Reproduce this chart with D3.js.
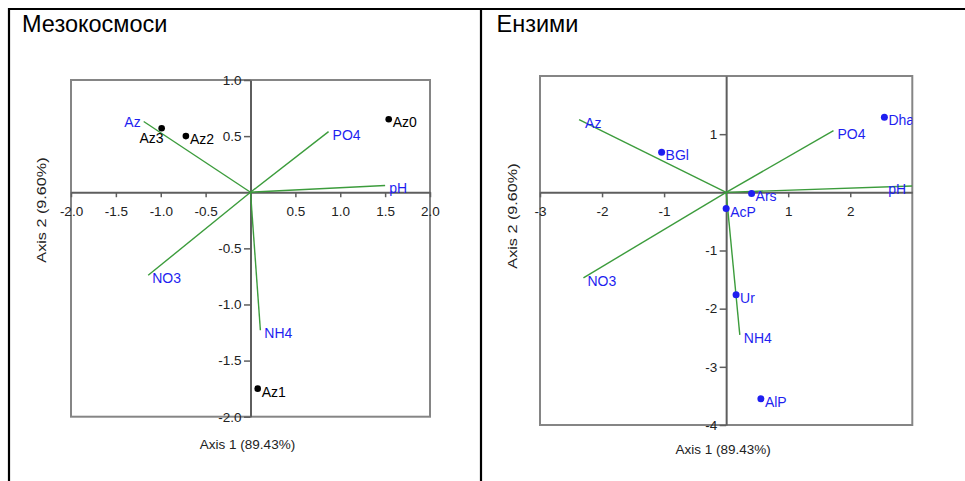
<!DOCTYPE html>
<html>
<head>
<meta charset="utf-8">
<script src="https://cdn.jsdelivr.net/npm/d3@7"></script>
<style>
  html, body { margin: 0; padding: 0; background: #fff; }
  svg { display: block; font-family: "Liberation Sans", Arial, sans-serif; }
</style>
</head>
<body>
<svg id="chart" width="965" height="481"></svg>
<script>
// ---- Data: PCA biplots (Axis 1 = 89.43 %, Axis 2 = 9.60 %) ----
const titles = ["Мезокосмоси", "Ензими"];
const axis1Title = "Axis 1 (89.43%)";
const axis2Title = "Axis 2 (9.60%)";

// Environmental vectors (shared names)
const vectorNames = ["Az", "PO4", "pH", "NO3", "NH4"];
const mesoVectorX = [-1.19, 0.87, 1.50, -1.14, 0.11];
const mesoVectorY = [0.63, 0.54, 0.06, -0.74, -1.23];
const enzVectorX = [-2.37, 1.73, 3.00, -2.30, 0.22];
const enzVectorY = [1.25, 1.06, 0.11, -1.47, -2.45];

// Scores – mesocosms
const mesoPointNames = ["Az0", "Az1", "Az2", "Az3"];
const mesoPointX = [1.54, 0.08, -0.72, -0.99];
const mesoPointY = [0.65, -1.75, 0.50, 0.57];

// Scores – enzymes
const enzPointNames = ["Dha", "BGl", "Ars", "AcP", "Ur", "AlP"];
const enzPointX = [2.55, -1.04, 0.41, 0.00, 0.16, 0.56];
const enzPointY = [1.29, 0.69, -0.02, -0.28, -1.76, -3.55];

// Axis domains and tick labels
const mesoDomainX = [-2, 2], mesoDomainY = [-2, 1];
const enzDomainX = [-3, 3], enzDomainY = [-4, 2];
const mesoTicksX = [-2.0, -1.5, -1.0, -0.5, 0.5, 1.0, 1.5, 2.0];
const mesoTicksY = [1.0, 0.5, -0.5, -1.0, -1.5, -2.0];
const enzTicksX = [-3, -2, -1, 1, 2];
const enzTicksY = [1, -1, -2, -3, -4];

// ---- Layout and styles ----
const GREEN = "#3c9c3c";
const BLUE = "#1f1ff0";
const AXIS = "#5e5e5e";
const BOX = "#858585";
const TEXT = "#222";

const svg = d3.select("#chart");
svg.append("rect").attr("width", 965).attr("height", 481).attr("fill", "#fff");

// outer table frame
const frame = svg.append("g").attr("stroke", "#000").attr("stroke-width", 2.2);
frame.append("line").attr("x1", 8).attr("x2", 965).attr("y1", 9).attr("y2", 9);
frame.append("line").attr("x1", 9).attr("x2", 9).attr("y1", 8).attr("y2", 481);
frame.append("line").attr("x1", 481).attr("x2", 481).attr("y1", 8).attr("y2", 481);

const panels = [
  {
    id: "meso", title: titles[0], titleX: 22,
    box: { x0: 71, x1: 430, y0: 80, y1: 416.7 },
    domX: mesoDomainX, domY: mesoDomainY,
    ticksX: mesoTicksX, ticksY: mesoTicksY, fmt: d => d.toFixed(1),
    vx: mesoVectorX, vy: mesoVectorY,
    pn: mesoPointNames, px: mesoPointX, py: mesoPointY,
    pointColor: "#000", pointR: 3.3,
    axis1Y: 449, axis2X: 46, axis2Y: 210,
    vecLabel: { Az: { dx: -3, dy: 5.5, anchor: "end" } },
    ptLabel: { Az3: { dx: 2, dy: 15, anchor: "end" } }
  },
  {
    id: "enz", title: titles[1], titleX: 496.5,
    box: { x0: 540, x1: 912.3, y0: 76, y1: 425 },
    domX: enzDomainX, domY: enzDomainY,
    ticksX: enzTicksX, ticksY: enzTicksY, fmt: d => String(d),
    vx: enzVectorX, vy: enzVectorY,
    pn: enzPointNames, px: enzPointX, py: enzPointY,
    pointColor: BLUE, pointR: 3.5,
    axis1Y: 454, axis2X: 517, axis2Y: 216,
    vecLabel: { Az: { dx: 6, dy: 8.5 }, pH: { dx: -24, dy: 8 } },
    ptLabel: {}
  }
];

panels.forEach(p => {
  const g = svg.append("g").attr("class", p.id);
  const b = p.box;
  const x = d3.scaleLinear().domain(p.domX).range([b.x0, b.x1]);
  const y = d3.scaleLinear().domain(p.domY).range([b.y1, b.y0]);

  // panel title
  g.append("text").attr("x", p.titleX).attr("y", 32)
    .attr("font-size", 23.5).attr("fill", "#000").text(p.title);

  // frame of the plot area
  g.append("rect").attr("x", b.x0).attr("y", b.y0)
    .attr("width", b.x1 - b.x0).attr("height", b.y1 - b.y0)
    .attr("fill", "none").attr("stroke", BOX).attr("stroke-width", 2);

  // axes crossing at the origin
  const xAxis = d3.axisBottom(x).tickValues(p.ticksX).tickFormat(p.fmt)
    .tickSize(5).tickSizeOuter(0).tickPadding(9.5);
  const yAxis = d3.axisLeft(y).tickValues(p.ticksY).tickFormat(p.fmt)
    .tickSize(6.5).tickSizeOuter(0).tickPadding(2.5);

  [g.append("g").attr("transform", `translate(0,${y(0)})`).call(xAxis),
   g.append("g").attr("transform", `translate(${x(0)},0)`).call(yAxis)]
    .forEach(ax => {
      ax.select(".domain").attr("stroke", AXIS).attr("stroke-width", 2);
      ax.selectAll(".tick line").attr("stroke", AXIS).attr("stroke-width", 1.5);
      ax.selectAll(".tick text").attr("fill", TEXT)
        .attr("font-size", 13.5).attr("font-family", "Liberation Sans, Arial, sans-serif");
    });

  // axis titles
  g.append("text").attr("x", (b.x0 + b.x1) / 2 - 3).attr("y", p.axis1Y)
    .attr("text-anchor", "middle").attr("font-size", 13.5).attr("fill", TEXT)
    .text(axis1Title);
  g.append("text")
    .attr("transform", `translate(${p.axis2X},${p.axis2Y}) rotate(-90) scale(1.2,1)`)
    .attr("text-anchor", "middle").attr("font-size", 13.5).attr("fill", TEXT)
    .text(axis2Title);

  // everything plotted is clipped to the plot area
  const clipId = "clip-" + p.id;
  g.append("clipPath").attr("id", clipId).append("rect")
    .attr("x", b.x0).attr("y", b.y0 - 1)
    .attr("width", b.x1 - b.x0).attr("height", b.y1 - b.y0 + 2);
  const plot = g.append("g").attr("clip-path", `url(#${clipId})`);

  // environmental vectors
  const vecs = vectorNames.map((n, i) => ({ n, vx: p.vx[i], vy: p.vy[i] }));
  plot.selectAll("line.vec").data(vecs).join("line").attr("class", "vec")
    .attr("x1", x(0)).attr("y1", y(0))
    .attr("x2", d => x(d.vx)).attr("y2", d => y(d.vy))
    .attr("stroke", GREEN).attr("stroke-width", 1.4);

  plot.selectAll("text.vec").data(vecs).join("text").attr("class", "vec")
    .each(function (d) {
      const o = p.vecLabel[d.n] || { dx: 4, dy: 8 };
      d3.select(this)
        .attr("x", x(d.vx) + o.dx).attr("y", y(d.vy) + o.dy)
        .attr("text-anchor", o.anchor || "start");
    })
    .attr("font-size", 14).attr("fill", BLUE).text(d => d.n);

  // sample / enzyme scores
  const pts = p.pn.map((n, i) => ({ n, px: p.px[i], py: p.py[i] }));
  plot.selectAll("circle.pt").data(pts).join("circle").attr("class", "pt")
    .attr("cx", d => x(d.px)).attr("cy", d => y(d.py))
    .attr("r", p.pointR).attr("fill", p.pointColor);

  plot.selectAll("text.pt").data(pts).join("text").attr("class", "pt")
    .each(function (d) {
      const o = p.ptLabel[d.n] || { dx: 4, dy: 8 };
      d3.select(this)
        .attr("x", x(d.px) + o.dx).attr("y", y(d.py) + o.dy)
        .attr("text-anchor", o.anchor || "start");
    })
    .attr("font-size", 14).attr("fill", p.pointColor).text(d => d.n);
});
</script>
</body>
</html>
